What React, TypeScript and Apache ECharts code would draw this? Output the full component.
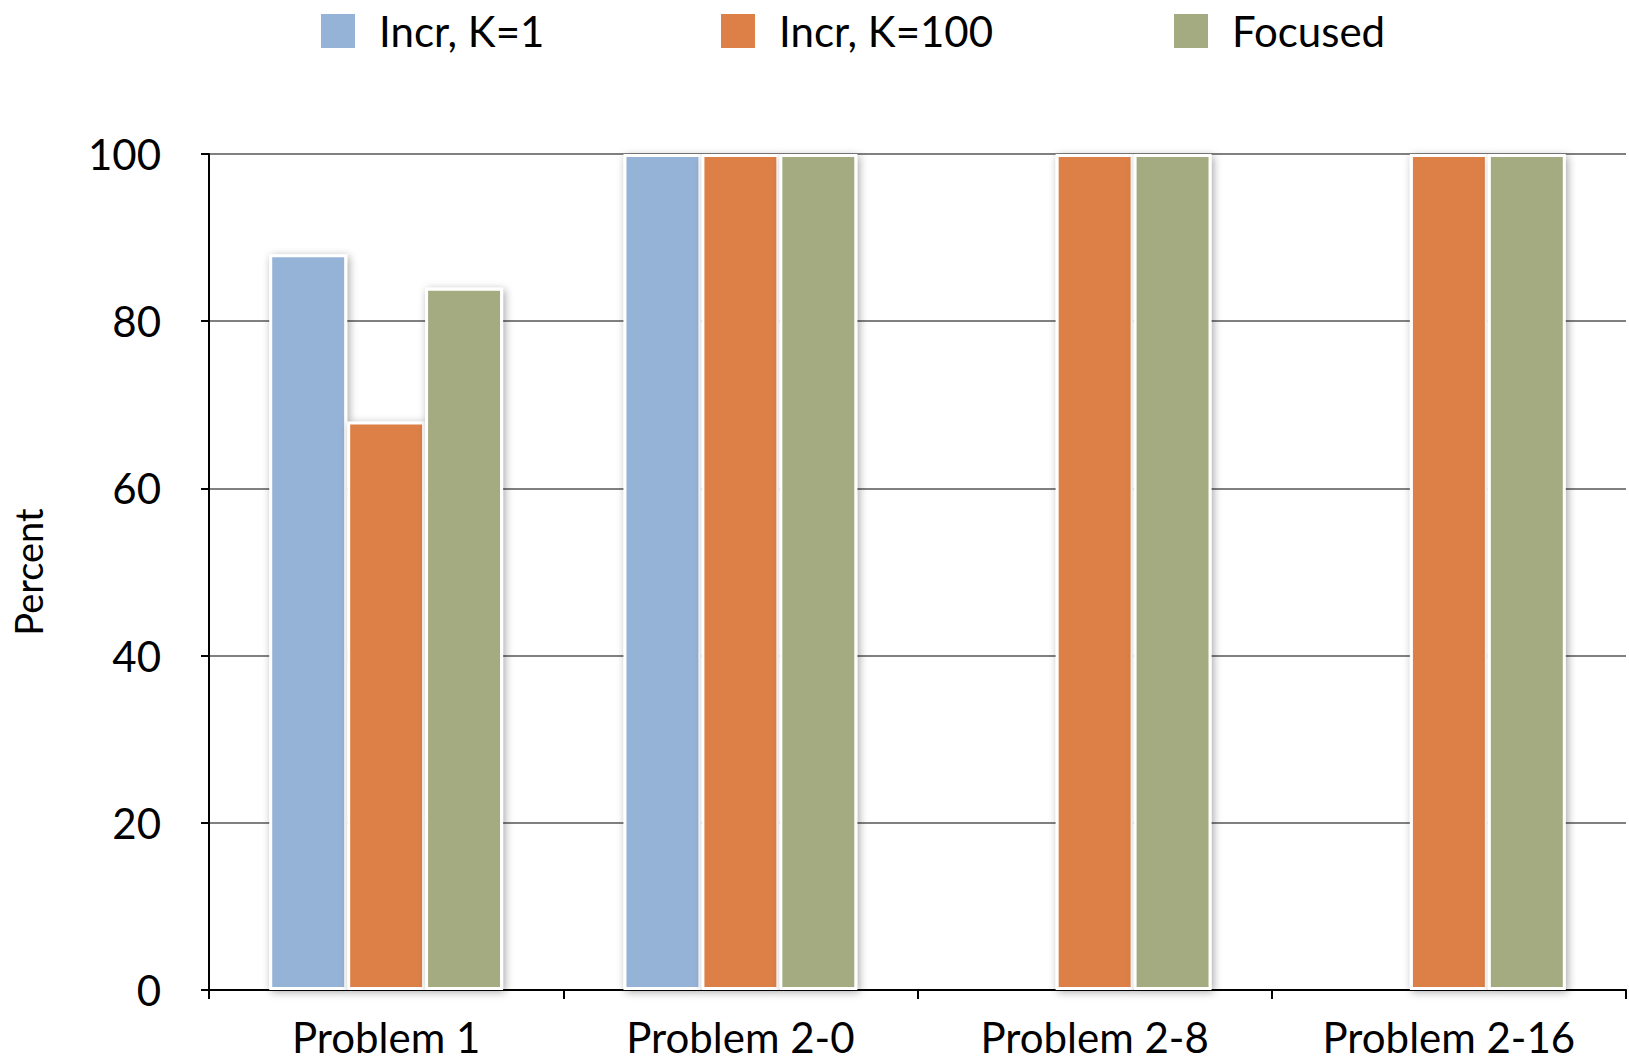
import React, { useEffect, useRef } from "react";
import * as echarts from "echarts";

const categories = ["Problem 1", "Problem 2-0", "Problem 2-8", "Problem 2-16"];
const seriesNames = ["Incr, K=1", "Incr, K=100", "Focused"];
const incrK1 = [88, 100, null, null];
const incrK100 = [68, 100, 100, 100];
const focused = [84, 100, 100, 100];
const colors = ["#95B3D6", "#DD8047", "#A5AB81"];
const yTicks = { min: 0, max: 100, interval: 20 };

const FONT = "Lato";

export default function App() {
  const ref = useRef<HTMLDivElement>(null);
  useEffect(() => {
    if (!ref.current) return;
    const chart = echarts.init(ref.current, undefined, { renderer: "svg" });
    const values = [incrK1, incrK100, focused];
    const legendLefts = [319, 719, 1172];
    chart.setOption({
      animation: false,
      textStyle: { fontFamily: FONT },
      legend: seriesNames.map((n, i) => ({
        data: [n],
        left: legendLefts[i],
        top: 10,
        padding: 0,
        itemWidth: 36,
        itemHeight: 36,
        itemGap: 0,
        icon: "rect",
        textStyle: { fontSize: 42, color: "#000", fontFamily: FONT, padding: [0, 0, 0, 18] },
        selectedMode: false,
      })),
      grid: { left: 209, right: 3, top: 154, bottom: 72, containLabel: false },
      xAxis: {
        type: "category",
        data: categories,
        axisLine: { lineStyle: { color: "#000", width: 2 } },
        axisTick: { show: true, length: 9, lineStyle: { color: "#000", width: 2 } },
        axisLabel: { fontSize: 42, lineHeight: 44, color: "#000", margin: 25, fontFamily: FONT },
      },
      yAxis: {
        type: "value",
        min: yTicks.min,
        max: yTicks.max,
        interval: yTicks.interval,
        name: "Percent",
        nameLocation: "middle",
        nameGap: 162,
        nameRotate: 90,
        nameTextStyle: { fontSize: 38, color: "#000", fontFamily: FONT },
        axisLine: { show: true, lineStyle: { color: "#000", width: 2 } },
        axisTick: { show: true, length: 8, lineStyle: { color: "#000", width: 2 } },
        axisLabel: { fontSize: 42, color: "#000", margin: 48, fontFamily: FONT },
        splitLine: { show: true, lineStyle: { color: "#808080", width: 2 } },
      },
      series: seriesNames.map((n, i) => ({
        name: n,
        type: "bar",
        data: values[i].map((v) => (v === null ? "-" : v)),
        barGap: "0%",
        barCategoryGap: "34%",
        itemStyle: {
          color: colors[i],
          borderColor: "#fff",
          borderWidth: 3,
          shadowBlur: 8,
          shadowColor: "rgba(0,0,0,0.35)",
          shadowOffsetX: 2,
          shadowOffsetY: 2,
        },
      })),
    });
    return () => chart.dispose();
  }, []);
  return <div ref={ref} style={{ width: 1629, height: 1062, position: "absolute", left: 0, top: 0 }} />;
}
